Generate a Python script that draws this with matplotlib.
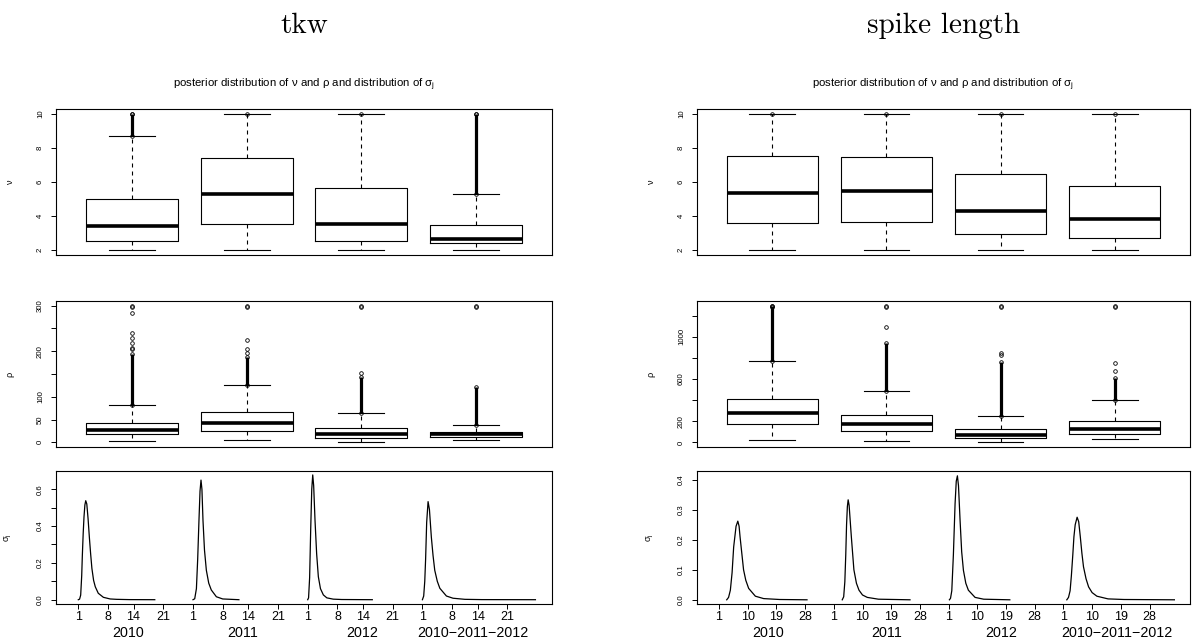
import matplotlib
matplotlib.use("Agg")
import matplotlib.pyplot as plt

plt.rcParams['font.family'] = ['Liberation Sans', 'DejaVu Sans']
plt.rcParams['mathtext.fontset'] = 'custom'
plt.rcParams['mathtext.rm'] = 'Liberation Sans'
plt.rcParams['mathtext.it'] = 'Liberation Sans:italic'

years = ["2010", "2011", "2012", "2010\u22122011\u22122012"]
subtitle = r"posterior distribution of ν and ρ and distribution of $\mathregular{σ_j}$"

# ---- tkw : nu ----
tkw_nu_lo = [2.0, 2.0, 2.0, 2.0]
tkw_nu_q1 = [2.53, 3.52, 2.51, 2.36]
tkw_nu_med = [3.38, 5.26, 3.5, 2.65]
tkw_nu_q3 = [5.0, 7.41, 5.64, 3.46]
tkw_nu_hi = [8.7, 10.0, 10.0, 5.3]
tkw_nu_dense_lo = [8.7, None, None, 5.3]
tkw_nu_dense_hi = [10.0, None, None, 10.0]
tkw_nu_out = [[10.0], [10.0], [10.0], [10.0]]

# ---- tkw : rho ----
tkw_rho_lo = [2, 5, 1.3, 4]
tkw_rho_q1 = [17.5, 25.5, 9.4, 12.3]
tkw_rho_med = [26, 43, 17.6, 17.4]
tkw_rho_q3 = [42, 66, 32, 23.3]
tkw_rho_hi = [81, 125, 65, 38.7]
tkw_rho_dense_lo = [81, 125, 65, 38.7]
tkw_rho_dense_hi = [194, 188, 144, 121]
tkw_rho_out = [[204, 207, 217, 230, 239, 285, 297, 300],
               [197, 205, 224, 297, 300],
               [153, 297, 300],
               [297, 300]]

# ---- tkw : sigma_j densities (one curve per year) ----
tkw_sig_x = [
    [1.0, 1.3, 1.56, 1.8, 1.95, 2.15, 2.34, 2.55, 2.75, 3.0, 3.3, 3.6, 3.9, 4.2, 4.6, 5.0, 5.7, 6.9, 8.5, 10, 13, 19],
    [1.0, 1.4, 1.8, 2.1, 2.4, 2.65, 2.88, 3.1, 3.35, 3.7, 4.14, 4.7, 5.3, 6.5, 8, 11.8],
    [1.0, 1.2, 1.45, 1.7, 1.95, 2.18, 2.4, 2.72, 3.1, 3.5, 4.0, 4.68, 5.5, 7, 9, 16.2],
    [1.0, 1.3, 1.55, 1.75, 2.0, 2.33, 2.65, 3.1, 3.5, 3.9, 4.5, 5.1, 6.65, 8.2, 11, 15, 27.6],
]
tkw_sig_y = [
    [0, 0.003, 0.025, 0.13, 0.24, 0.36, 0.45, 0.515, 0.538, 0.52, 0.44, 0.34, 0.25, 0.17, 0.105, 0.07, 0.035, 0.013, 0.004, 0.002, 0.0005, 0],
    [0, 0.005, 0.06, 0.22, 0.43, 0.59, 0.65, 0.6, 0.43, 0.27, 0.16, 0.09, 0.053, 0.016, 0.004, 0],
    [0, 0.01, 0.12, 0.38, 0.6, 0.678, 0.62, 0.43, 0.25, 0.125, 0.06, 0.026, 0.01, 0.003, 0.001, 0],
    [0, 0.02, 0.1, 0.22, 0.42, 0.533, 0.49, 0.34, 0.24, 0.16, 0.1, 0.062, 0.02, 0.008, 0.002, 0.0005, 0],
]
tkw_sig_ticks = [1, 8, 14, 21]
tkw_year_pos = [12.8, 12.7, 13.9, 12.9]

# ---- spike length : nu ----
spk_nu_lo = [2.0, 2.0, 2.0, 2.0]
spk_nu_q1 = [3.56, 3.6, 2.89, 2.71]
spk_nu_med = [5.36, 5.44, 4.25, 3.78]
spk_nu_q3 = [7.51, 7.49, 6.44, 5.73]
spk_nu_hi = [10.0, 10.0, 10.0, 10.0]
spk_nu_dense_lo = [None, None, None, None]
spk_nu_dense_hi = [None, None, None, None]
spk_nu_out = [[10.0], [10.0], [10.0], [10.0]]

# ---- spike length : rho ----
spk_rho_lo = [22, 15, 6, 28]
spk_rho_q1 = [170, 104, 38, 82]
spk_rho_med = [274, 173, 72, 126]
spk_rho_q3 = [407, 255, 123, 205]
spk_rho_hi = [770, 489, 249, 397]
spk_rho_dense_lo = [770, 489, 249, 397]
spk_rho_dense_hi = [1294, 937, 763, 606]
spk_rho_out = [[1285, 1294], [1095, 1285, 1294], [830, 843, 1285, 1294], [675, 748, 1285, 1294]]

# ---- spike length : sigma_j densities ----
spk_sig_x = [
    [3.42, 4.0, 4.56, 5.1, 5.6, 6.35, 6.9, 7.3, 7.6, 8.2, 8.7, 9.4, 10.3, 12.4, 15, 20, 28.6],
    [3.65, 4.1, 4.46, 4.75, 5.0, 5.25, 5.5, 5.8, 6.1, 6.5, 7.3, 8.1, 8.9, 10, 11.5, 15, 24.9],
    [1.25, 1.6, 2.0, 2.5, 3.03, 3.4, 3.76, 4.1, 4.6, 5.1, 5.65, 6.4, 7.2, 9.3, 12, 20.2],
    [2.07, 2.6, 3.1, 3.5, 3.95, 4.3, 4.7, 5.3, 5.8, 6.3, 6.8, 7.3, 8.1, 8.9, 10, 11.5, 15, 20, 35.8],
]
spk_sig_y = [
    [0, 0.008, 0.032, 0.09, 0.176, 0.245, 0.262, 0.245, 0.21, 0.15, 0.1, 0.065, 0.038, 0.012, 0.004, 0.001, 0],
    [0, 0.01, 0.06, 0.15, 0.25, 0.31, 0.333, 0.315, 0.27, 0.21, 0.1, 0.055, 0.032, 0.016, 0.008, 0.002, 0],
    [0, 0.005, 0.03, 0.15, 0.32, 0.395, 0.413, 0.38, 0.264, 0.16, 0.098, 0.055, 0.032, 0.008, 0.002, 0],
    [0, 0.008, 0.03, 0.08, 0.15, 0.21, 0.25, 0.275, 0.26, 0.21, 0.155, 0.11, 0.07, 0.043, 0.024, 0.012, 0.003, 0.001, 0],
]
spk_sig_ticks = [1, 10, 19, 28]
spk_year_pos = [16.3, 17.5, 17.5, 17.7]

W, H = 1195, 644
LW = 0.8
TICKFS = 5.6


def style_axis(ax):
    for s in ax.spines.values():
        s.set_linewidth(LW)
    ax.tick_params(axis='y', direction='out', length=3.6, width=0.7,
                   labelsize=TICKFS, labelrotation=90, pad=5)
    for lab in ax.get_yticklabels():
        lab.set_va('center')


def draw_boxes(ax, lo, q1, med, q3, hi, dense_lo, dense_hi, fliers):
    stats = []
    for i in range(4):
        stats.append(dict(whislo=lo[i], q1=q1[i], med=med[i], q3=q3[i],
                          whishi=hi[i], fliers=fliers[i]))
    ax.bxp(stats, positions=[1, 2, 3, 4], widths=0.8, capwidths=0.4,
           boxprops=dict(color='black', lw=LW),
           medianprops=dict(color='black', lw=2.6, solid_capstyle='butt'),
           whiskerprops=dict(color='black', lw=LW, linestyle=(0, (3.6, 3.6))),
           capprops=dict(color='black', lw=LW),
           flierprops=dict(marker='o', markerfacecolor='none',
                           markeredgecolor='black', markersize=2.6,
                           markeredgewidth=0.6))
    for i in range(4):
        if dense_lo[i] is not None:
            ax.vlines(i + 1, dense_lo[i], dense_hi[i], color='black', lw=2.3)
            ax.plot([i + 1, i + 1], [dense_lo[i], dense_hi[i]], 'o',
                    mfc='none', mec='black', ms=2.6, mew=0.6)
    ax.set_xlim(0.34, 4.66)
    ax.set_xticks([])


def draw_sigma(ax, xs, ys, ticks, offset, year_pos, xlim, ylim, yticks, ylabels):
    pos, labs = [], []
    for g in range(4):
        ax.plot([x + g * offset for x in xs[g]], ys[g], color='black', lw=0.9)
        for t in ticks:
            pos.append(t + g * offset)
            labs.append(str(t))
        ax.text(year_pos[g] + g * offset, -0.215, years[g], fontsize=10.3,
                ha='center', va='center', transform=ax.get_xaxis_transform())
    ax.set_xticks(pos, labs)
    ax.tick_params(axis='x', direction='out', length=3.6, width=0.7,
                   labelsize=9, pad=1.5)
    ax.set_xlim(*xlim)
    ax.set_ylim(*ylim)
    ax.set_yticks(yticks, ylabels)


def add_column(x0, wpx, title, subt_y, nu, rho, sig):
    fx, fw = x0 / W, wpx / W
    ax1 = fig.add_axes([fx, 1 - 255 / H, fw, 146.4 / H])
    ax2 = fig.add_axes([fx, 1 - 447.3 / H, fw, 146.6 / H])
    ax3 = fig.add_axes([fx, 1 - 604.3 / H, fw, 133.6 / H])

    draw_boxes(ax1, *nu)
    ax1.set_ylim(1.68, 10.32)
    ax1.set_yticks([2, 4, 6, 8, 10])

    draw_boxes(ax2, *rho[:8])
    ax2.set_ylim(*rho[8])
    ax2.set_yticks(rho[9], rho[10])

    draw_sigma(ax3, *sig)

    for ax, lab in zip([ax1, ax2, ax3], ["ν", "ρ", r"$\mathregular{σ_j}$"]):
        style_axis(ax)
        ax.set_ylabel(lab, fontsize=6.5)
        ax.yaxis.set_label_coords(-41.5 / wpx, 0.5)

    cx = fx + fw / 2
    fig.text(cx, 1 - 33 / H, title, fontsize=21, family='cmr10',
             ha='center', va='baseline')
    fig.text(cx, 1 - subt_y / H, subtitle, fontsize=8.2, ha='center', va='center')


fig = plt.figure(figsize=(W / 100, H / 100), dpi=100)

add_column(56, 496, "tkw", 85,
           [tkw_nu_lo, tkw_nu_q1, tkw_nu_med, tkw_nu_q3, tkw_nu_hi,
            tkw_nu_dense_lo, tkw_nu_dense_hi, tkw_nu_out],
           [tkw_rho_lo, tkw_rho_q1, tkw_rho_med, tkw_rho_q3, tkw_rho_hi,
            tkw_rho_dense_lo, tkw_rho_dense_hi, tkw_rho_out,
            (-11, 311), [0, 50, 100, 150, 200, 250, 300],
            ["0", "50", "100", "", "200", "", "300"]],
           [tkw_sig_x, tkw_sig_y, tkw_sig_ticks, 27, tkw_year_pos,
            (-4.25, 112.5), (-0.025, 0.701),
            [0, 0.1, 0.2, 0.3, 0.4, 0.5, 0.6],
            ["0.0", "", "0.2", "", "0.4", "", "0.6"]])

add_column(697, 493, "spike length", 85,
           [spk_nu_lo, spk_nu_q1, spk_nu_med, spk_nu_q3, spk_nu_hi,
            spk_nu_dense_lo, spk_nu_dense_hi, spk_nu_out],
           [spk_rho_lo, spk_rho_q1, spk_rho_med, spk_rho_q3, spk_rho_hi,
            spk_rho_dense_lo, spk_rho_dense_hi, spk_rho_out,
            (-46, 1340), [0, 200, 400, 600, 800, 1000, 1200],
            ["0", "200", "", "600", "", "1000", ""]],
           [spk_sig_x, spk_sig_y, spk_sig_ticks, 36, spk_year_pos,
            (-5.9, 148.7), (-0.015, 0.43),
            [0, 0.1, 0.2, 0.3, 0.4],
            ["0.0", "0.1", "0.2", "0.3", "0.4"]])

fig.savefig("out.png", dpi=100)
